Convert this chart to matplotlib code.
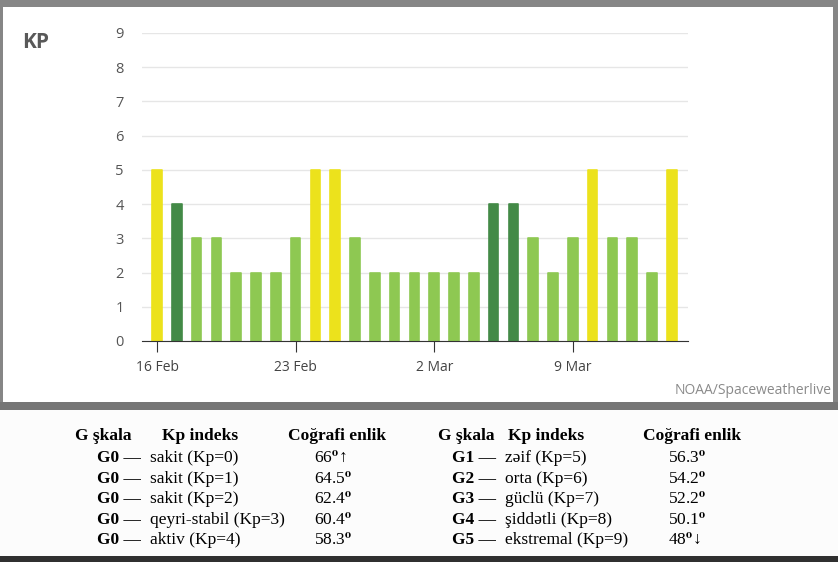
import matplotlib.pyplot as plt
from matplotlib.patches import Rectangle

plt.rcParams["mathtext.fontset"] = "stix"

# --- data -------------------------------------------------------------
days = ["16 Feb", "17 Feb", "18 Feb", "19 Feb", "20 Feb", "21 Feb", "22 Feb",
        "23 Feb", "24 Feb", "25 Feb", "26 Feb", "27 Feb", "28 Feb",
        "1 Mar", "2 Mar", "3 Mar", "4 Mar", "5 Mar", "6 Mar", "7 Mar",
        "8 Mar", "9 Mar", "10 Mar", "11 Mar", "12 Mar", "13 Mar", "14 Mar"]
kp = [5, 4, 3, 3, 2, 2, 2, 3, 5, 5, 3, 2, 2, 2, 2, 2, 2, 4, 4, 3, 2, 3, 5, 3, 3, 2, 5]
tick_labels = ["16 Feb", "23 Feb", "2 Mar", "9 Mar"]

header = ["G şkala", "Kp indeks", "Coğrafi enlik"]
g_left = ["G0 —", "G0 —", "G0 —", "G0 —", "G0 —"]
desc_left = ["sakit (Kp=0)", "sakit (Kp=1)", "sakit (Kp=2)",
             "qeyri-stabil (Kp=3)", "aktiv (Kp=4)"]
lat_left = ["66", "64.5", "62.4", "60.4", "58.3"]
arrow_left = ["↑", "", "", "", ""]
g_right = ["G1 —", "G2 —", "G3 —", "G4 —", "G5 —"]
desc_right = ["zəif (Kp=5)", "orta (Kp=6)", "güclü (Kp=7)",
              "şiddətli (Kp=8)", "ekstremal (Kp=9)"]
lat_right = ["56.3", "54.2", "52.2", "50.1", "48"]
arrow_right = ["", "", "", "", "↓"]

YELLOW, DARK, LIGHT = "#ece21c", "#438a47", "#8ec852"


def bar_color(v):
    if v >= 5:
        return YELLOW
    if v == 4:
        return DARK
    return LIGHT


W, H = 838, 562


def fx(x):
    return x / W


def fy(y):
    return (H - y) / H


fig = plt.figure(figsize=(W / 100, H / 100), dpi=100, facecolor="#868686")

# panels
fig.patches.append(Rectangle((fx(3), fy(402)), fx(830), 395 / H, transform=fig.transFigure,
                             facecolor="white", edgecolor="none", zorder=0))
fig.patches.append(Rectangle((0, fy(556)), 1, 146 / H, transform=fig.transFigure,
                             facecolor="#fcfcfc", edgecolor="none", zorder=0))
fig.patches.append(Rectangle((0, 0), 1, 6 / H, transform=fig.transFigure,
                             facecolor="#303030", edgecolor="none", zorder=0))
fig.patches.append(Rectangle((0, fy(410)), 1, 8 / H, transform=fig.transFigure,
                             facecolor="#767676", edgecolor="none", zorder=0))

# --- chart ------------------------------------------------------------
ax = fig.add_axes([fx(142), fy(341), fx(688 - 142), (341 - 33) / H])
ax.set_zorder(2)
ax.set_facecolor("none")
x = list(range(len(kp)))
cols = [bar_color(v) for v in kp]
ax.bar(x, kp, width=0.48, color=cols, zorder=3,
       linewidth=1.2, edgecolor=cols, joinstyle="round")
ax.set_xlim(-0.76, 26.82)
ax.set_ylim(0, 9)
ax.set_yticks(range(10))
ax.yaxis.grid(True, color="#e6e6e6", linewidth=1, zorder=0)
ax.set_axisbelow(True)
for s in ("top", "right", "left"):
    ax.spines[s].set_visible(False)
ax.spines["bottom"].set_color("#333333")
ax.spines["bottom"].set_zorder(4)
ax.set_xticks([days.index(t) for t in tick_labels])
ax.set_xticklabels(tick_labels)
ax.tick_params(axis="x", length=8, color="#333333", pad=6, labelsize=10,
               labelcolor="#444444")
ax.tick_params(axis="y", length=0, pad=13, labelsize=10.5, labelcolor="#555555")
for lab in ax.get_xticklabels() + ax.get_yticklabels():
    lab.set_family("Open Sans")

fig.text(fx(22), fy(42), "KP", fontsize=15, fontweight="bold", color="#595959",
         family="Open Sans", va="center", ha="left", zorder=3)
fig.text(fx(832), fy(391), "NOAA/Spaceweatherlive", fontsize=10, color="#8a8a8a",
         family="Open Sans", va="center", ha="right", zorder=3)

# --- table --------------------------------------------------------------
serif = ["Liberation Serif", "DejaVu Serif"]
fs = 12.5
row_y = [458, 479, 499, 520, 540]


def draw_table(xh, xg, xd, xv, gs, ds, vs, arrows):
    for xx, t in zip(xh, header):
        fig.text(fx(xx), fy(436), t, family=serif, fontsize=fs, fontweight="bold",
                 va="center", ha="left", zorder=3)
    for y, g, d, v, a in zip(row_y, gs, ds, vs, arrows):
        fig.text(fx(xg), fy(y), g, family=serif, fontsize=fs, fontweight="bold",
                 va="center", ha="left", zorder=3)
        fig.text(fx(xd), fy(y), d, family=serif, fontsize=fs, va="center",
                 ha="left", zorder=3)
        fig.text(fx(xv), fy(y), v + r"$^{\mathbf{o}}$" + a, family=serif,
                 fontsize=fs, va="center", ha="left", zorder=3)


draw_table([75, 162, 288], 97, 150, 314, g_left, desc_left, lat_left, arrow_left)
draw_table([438, 508, 643], 452, 505, 668, g_right, desc_right, lat_right, arrow_right)

fig.savefig("out.png", dpi=100, facecolor=fig.get_facecolor())
